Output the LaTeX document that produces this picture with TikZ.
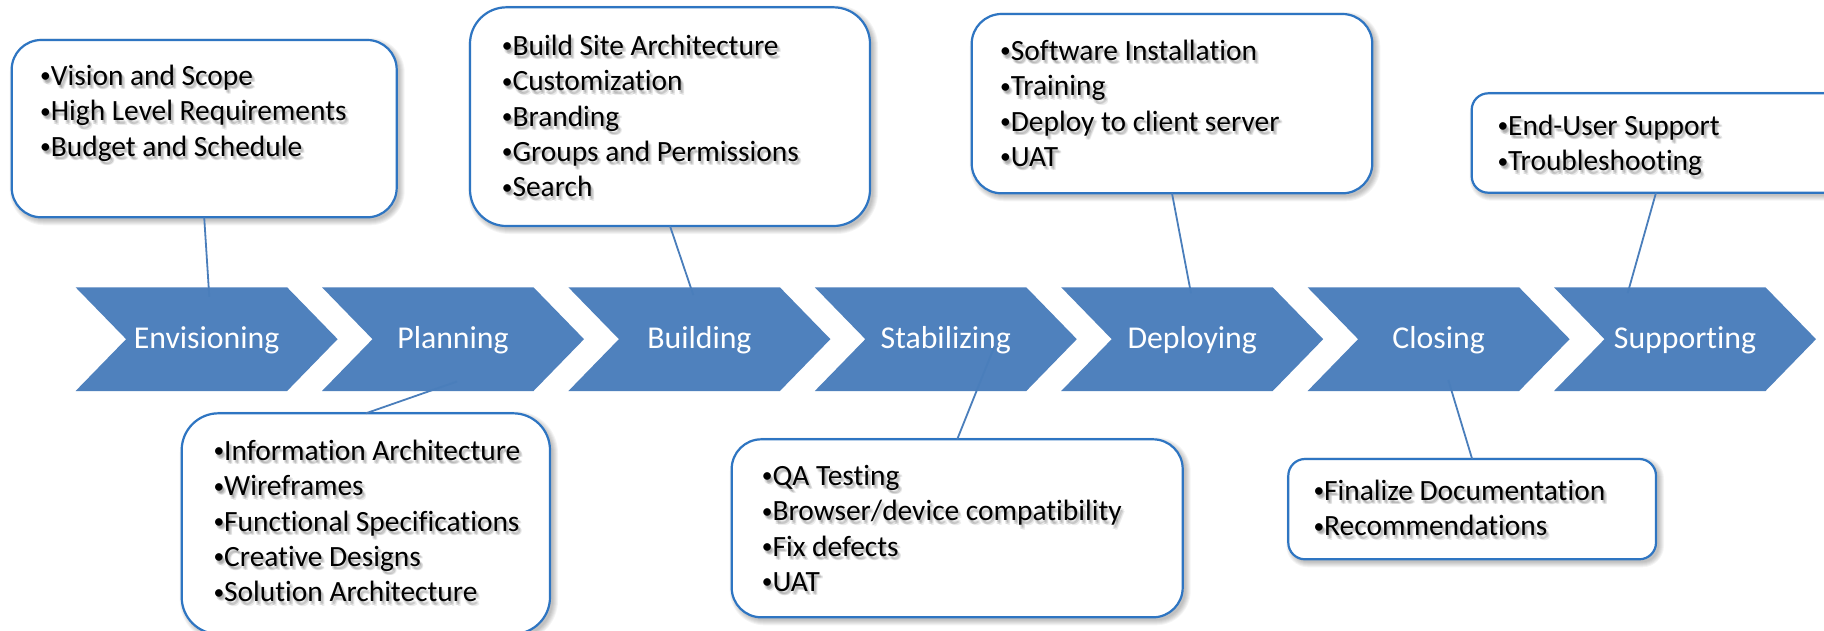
\documentclass[tikz,border=0pt]{standalone}
\usepackage{fontspec}
\setmainfont{Carlito}[Ligatures=NoCommon]
\usetikzlibrary{calc}
\definecolor{chev}{HTML}{4F81BD}
\definecolor{boxblue}{HTML}{2E75C2}
\definecolor{conncol}{HTML}{4A7EBB}
\tikzset{
  chevlabel/.style={text=white, font=\fontsize{31.8}{38}\selectfont, inner sep=0pt, anchor=base},
  box/.style={draw=boxblue, line width=2.2pt, fill=white, inner sep=0pt, outer sep=0pt},
  btxt/.style={font=\fontsize{29.4}{35.4}\selectfont, align=left, inner sep=0pt, anchor=north west},
  connector/.style={draw=conncol, line width=1.8pt},
}
\newcommand\bul{\raisebox{2.6pt}{\fontsize{21.5}{21.5}\selectfont •}}
\newcommand\chevron[3]{%
  \pgfmathsetmacro\cl{#2}%
  \fill[chev] (\cl,287.3) -- ++(211.5,0) -- ++(50.5,51.85) -- ++(-50.5,51.85)
     -- ++(-211.5,0) -- ++(50.5,-51.85) -- cycle;
  \node[chevlabel] (#1) at (\cl+131,348.5) {#3};}
\newcommand\rbox[5]{%
  \pgfmathsetmacro\ww{#4-#2}%
  \pgfmathsetmacro\hh{#5-#3}%
  \pgfmathsetmacro\rr{0.1667*min(\ww,\hh)}%
  \foreach \k in {0,...,5}{%
    \pgfmathsetmacro\rk{\rr+\k}%
    \fill[black, opacity=0.045, rounded corners=\rk pt] (#2+3-\k,#3+3-\k) rectangle (#4+3+\k,#5+3+\k);}%
  \node[box, rounded corners=\rr pt, minimum width=\ww pt, minimum height=\hh pt] (#1) at ({(#2+#4)/2},{(#3+#5)/2}) {};}
\newcommand\bultext[3]{%
  \foreach \dx/\dy [count=\n] in {1.5/2, 3/3, 2/4, 3.5/4.5, 1/3.5}{%
    \node[btxt, text=black, text opacity=0.075] (#1s\n) at ($#2+(\dx,\dy-24.78)$) {\strut{}#3};}%
  \node[btxt] (#1) at ($#2+(0,-24.78)$) {\strut{}#3};}
\begin{document}
\begin{tikzpicture}[x=1pt, y=-1pt]
  \useasboundingbox (0,0) rectangle (1824,630);
  \fill[white] (0,0) rectangle (1824,630);
  \clip (0,0) rectangle (1824,630);
  % chevrons
  \chevron{ch1}{75.6}{Envisioning}
  \chevron{ch2}{322.0}{Planning}
  \chevron{ch3}{568.4}{Building}
  \chevron{ch4}{814.8}{Stabilizing}
  \chevron{ch5}{1061.2}{Deploying}
  \chevron{ch6}{1307.6}{Closing}
  \chevron{ch7}{1554.0}{Supporting}
  % connector ends on chevrons
  \coordinate (e1) at (209.3,296.8);
  \coordinate (e2) at (693.3,295);
  \coordinate (e3) at (1191,293.3);
  \coordinate (e4) at (1627.7,293);
  \coordinate (e5) at (457,381.5);
  \coordinate (e6) at (994.3,346.7);
  \coordinate (e7) at (1448.3,380);
  % boxes
  \rbox{b1}{11.7}{40}{396.7}{217.3}
  \rbox{b2}{470}{7.3}{870}{226}
  \rbox{b3}{971.7}{14}{1372.3}{193.3}
  \rbox{b4}{1471.7}{93.3}{1840.3}{192.7}
  \rbox{b5}{181.7}{413.3}{550}{634}
  \rbox{b6}{731.7}{439.3}{1182.7}{617.3}
  \rbox{b7}{1288.3}{459}{1656}{559.3}
  % connectors
  \draw[connector] (b1.south) -- (e1);
  \draw[connector] (b2.south) -- (e2);
  \draw[connector] (b3.south) -- (e3);
  \draw[connector] (b4.south) -- (e4);
  \draw[connector] (b5.north) -- (e5);
  \draw[connector] (b6.north) -- (e6);
  \draw[connector] (b7.north) -- (e7);
  % texts
  \bultext{t1}{(40,85)}{\bul Vision and Scope\\\bul High Level Requirements\\\bul Budget and Schedule}
  \bultext{t2}{(501.7,55)}{\bul Build Site Architecture\\\bul Customization\\\bul Branding\\\bul Groups and Permissions\\\bul Search}
  \bultext{t3}{(1000,60)}{\bul Software Installation\\\bul Training\\\bul Deploy to client server\\\bul UAT}
  \bultext{t4}{(1497.3,135)}{\bul End-User Support\\\bul Troubleshooting}
  \bultext{t5}{(213.3,460)}{\bul Information Architecture\\\bul Wireframes\\\bul Functional Specifications\\\bul Creative Designs\\\bul Solution Architecture}
  \bultext{t6}{(761.7,485)}{\bul QA Testing\\\bul Browser/device compatibility\\\bul Fix defects\\\bul UAT}
  \bultext{t7}{(1313.3,500)}{\bul Finalize Documentation\\\bul Recommendations}
\end{tikzpicture}
\end{document}
